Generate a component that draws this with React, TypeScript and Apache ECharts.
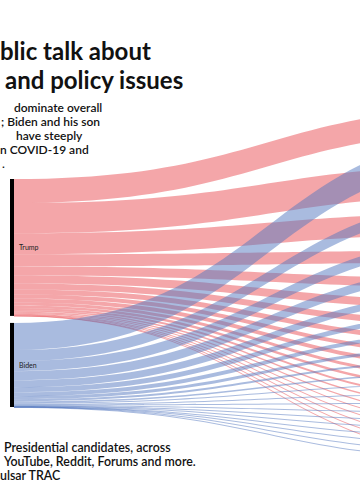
import React, { useEffect, useRef } from "react";
import * as echarts from "echarts";

// ---- data ----
const candidates = ["Trump", "Biden"];
const topics = [
  "Coronavirus", "Economy", "Hunter Biden", "Healthcare", "Election fraud",
  "Supreme Court", "Climate change", "Racial justice", "Taxes", "Immigration",
  "China", "Law & order", "Jobs", "Foreign policy", "Education",
  "Gun control", "Energy", "Trade", "Social Security", "Infrastructure",
];
const trumpValues = [24, 30, 21, 12, 9, 8, 6, 5, 4, 4, 3, 2.5, 2, 1.5, 1.2, 1, 0.8, 0.6, 0.4, 0.3];
const bidenValues = [27, 11, 10, 9, 7, 5, 4, 3, 2, 1.5, 1, 0.8, 0.6, 0.5, 0.4, 0.3, 0.2, 0.2, 0.1, 0.1];

const titleLines = ["blic talk about", "and policy issues"];
const subtitleLines = ["dominate overall", "; Biden and his son", "have steeply", "n COVID-19 and", "."];
const footerLines = ["Presidential candidates, across", "YouTube, Reddit, Forums and more.", "ulsar TRAC"];

// ---- styles / layout ----
const TRUMP_COLOR = "#e94d53";
const BIDEN_COLOR = "#5377bf";
const FONT = "Lato, 'Noto Sans', sans-serif";
const W = 360;
const H = 500;
const SANKEY_LEFT = 10;
const SANKEY_RIGHT = -164;
const SANKEY_TOP = 106;
const SANKEY_BOTTOM = 40;
const NODE_GAP = 7;
const NODE_W = 4;
const LEFT_COLUMN_TOP = 179;

const titleX = [0, 5];
const subtitleX = [14, 1, 16, 0, 2];
const footerX = [4, 4, 0];

export default function App() {
  const ref = useRef<HTMLDivElement>(null);

  useEffect(() => {
    if (!ref.current) return;
    const chart = echarts.init(ref.current, undefined, { renderer: "svg" });

    const trumpTotal = trumpValues.reduce((a, b) => a + b, 0);
    const bidenTotal = bidenValues.reduce((a, b) => a + b, 0);
    const total = trumpTotal + bidenTotal;
    const layoutH = H - SANKEY_TOP - SANKEY_BOTTOM;
    const ky = (layoutH - (topics.length - 1) * NODE_GAP) / total;
    const trumpY = LEFT_COLUMN_TOP - SANKEY_TOP;
    const bidenY = trumpY + trumpTotal * ky + NODE_GAP;

    const nodes: any[] = [
      { name: candidates[0], localY: trumpY / layoutH },
      { name: candidates[1], localY: bidenY / layoutH },
      ...topics.map((t) => ({ name: t, label: { show: false } })),
    ];
    const links: any[] = [];
    topics.forEach((t, i) => {
      links.push({ source: candidates[0], target: t, value: trumpValues[i], lineStyle: { color: TRUMP_COLOR } });
    });
    topics.forEach((t, i) => {
      links.push({ source: candidates[1], target: t, value: bidenValues[i], lineStyle: { color: BIDEN_COLOR } });
    });

    const graphic: any[] = [];
    titleLines.forEach((t, i) => {
      graphic.push({
        type: "text", x: titleX[i], y: 50 + i * 29,
        style: { text: t, fontSize: 24, fontWeight: 700, fontFamily: FONT, fill: "#111", verticalAlign: "middle" },
      });
    });
    subtitleLines.forEach((t, i) => {
      graphic.push({
        type: "text", x: subtitleX[i], y: 107 + i * 14,
        style: { text: t, fontSize: 12, fontWeight: 600, fontFamily: FONT, fill: "#111", verticalAlign: "middle" },
      });
    });
    footerLines.forEach((t, i) => {
      graphic.push({
        type: "text", x: footerX[i], y: 447 + i * 14,
        style: { text: t, fontSize: 12.4, fontWeight: 600, fontFamily: FONT, fill: "#111", verticalAlign: "middle" },
      });
    });

    chart.setOption({
      animation: false,
      backgroundColor: "#fff",
      graphic,
      series: [
        {
          type: "sankey",
          left: SANKEY_LEFT,
          right: SANKEY_RIGHT,
          top: SANKEY_TOP,
          bottom: SANKEY_BOTTOM,
          nodeWidth: NODE_W,
          nodeGap: NODE_GAP,
          layoutIterations: 0,
          draggable: false,
          emphasis: { disabled: true },
          itemStyle: { color: "#000", borderWidth: 0 },
          label: { show: true, position: "right", distance: 5, fontSize: 7, color: "#222", fontFamily: FONT },
          lineStyle: { opacity: 0.5, curveness: 0.5 },
          data: nodes,
          links,
        },
      ],
    });
    return () => chart.dispose();
  }, []);

  return (
    <div style={{ position: "fixed", left: 0, top: 0, width: W, height: H, overflow: "hidden", background: "#fff" }}>
      <div ref={ref} style={{ width: W, height: H }} />
    </div>
  );
}
